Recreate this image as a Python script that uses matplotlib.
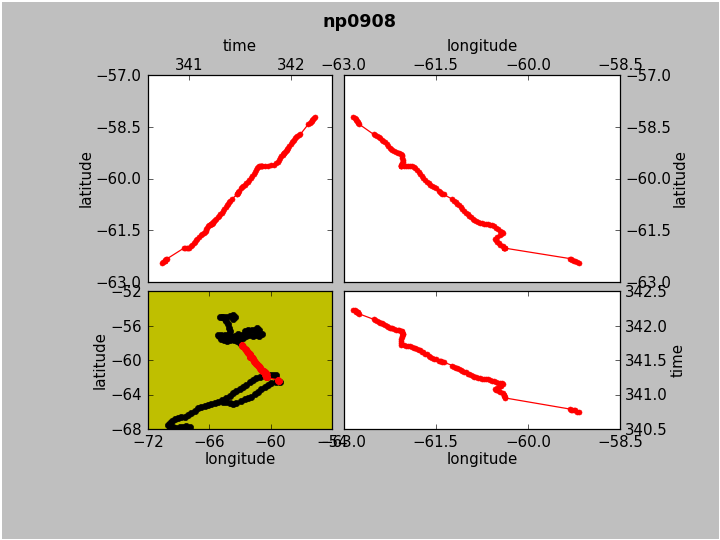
import matplotlib
matplotlib.use('Agg')
import matplotlib.pyplot as plt

# np0908 float track
lon = [-62.84, -62.82, -62.80, -62.79, -62.78, -62.77, -62.76, -62.75, -62.51, -62.49,
       -62.46, -62.43, -62.40, -62.38, -62.35, -62.32, -62.29, -62.27, -62.25, -62.23,
       -62.21, -62.18, -62.15, -62.12, -62.10, -62.07, -62.05, -62.05, -62.04, -62.03,
       -62.03, -62.04, -62.05, -62.06, -62.06, -62.06, -62.06, -62.02, -61.99, -61.95, -61.92, -61.89, -61.86,
       -61.83, -61.80, -61.77, -61.75, -61.72, -61.70, -61.67, -61.64, -61.61, -61.59,
       -61.56, -61.53, -61.50, -61.45, -61.43, -61.41, -61.39, -61.37, -61.23, -61.20,
       -61.17, -61.15, -61.12, -61.09, -61.07, -61.04, -61.01, -60.98, -60.96, -60.93,
       -60.90, -60.87, -60.85, -60.81, -60.78, -60.75, -60.72, -60.68, -60.65, -60.61,
       -60.58, -60.55, -60.51, -60.48, -60.45, -60.42, -60.40, -60.43, -60.46, -60.50,
       -60.54, -60.52, -60.50, -60.47, -60.45, -60.41, -60.38, -60.38, -60.38, -60.37, -60.37, -59.32, -59.30,
       -59.28, -59.25, -59.23, -59.20, -59.16]
lat = [-58.22, -58.25, -58.28, -58.30, -58.32, -58.35, -58.38, -58.42, -58.72, -58.75,
       -58.78, -58.81, -58.84, -58.87, -58.91, -58.95, -59.00, -59.05, -59.11, -59.15,
       -59.18, -59.21, -59.23, -59.25, -59.26, -59.28, -59.31, -59.36, -59.41, -59.46,
       -59.51, -59.56, -59.61, -59.62, -59.63, -59.63, -59.64, -59.63, -59.63, -59.64, -59.64, -59.65, -59.66,
       -59.71, -59.76, -59.82, -59.88, -59.93, -59.99, -60.04, -60.09, -60.14, -60.18,
       -60.22, -60.25, -60.28, -60.37, -60.40, -60.42, -60.44, -60.46, -60.60, -60.64,
       -60.69, -60.73, -60.77, -60.83, -60.88, -60.93, -60.99, -61.04, -61.08, -61.12,
       -61.16, -61.20, -61.23, -61.26, -61.28, -61.30, -61.31, -61.32, -61.33, -61.35,
       -61.36, -61.39, -61.43, -61.47, -61.52, -61.56, -61.59, -61.62, -61.65, -61.70,
       -61.74, -61.79, -61.83, -61.87, -61.92, -61.97, -62.01, -62.01, -62.02, -62.02, -62.02, -62.32, -62.34,
       -62.37, -62.39, -62.40, -62.42, -62.44]
time = [342.23, 342.22, 342.21, 342.20, 342.20, 342.19, 342.18, 342.17, 342.09, 342.08,
        342.06, 342.05, 342.04, 342.03, 342.02, 342.01, 342.00, 341.98, 341.97, 341.96,
        341.96, 341.95, 341.94, 341.93, 341.93, 341.92, 341.92, 341.90, 341.89, 341.88,
        341.87, 341.85, 341.83, 341.80, 341.77, 341.74, 341.72, 341.72, 341.71, 341.71, 341.70, 341.69, 341.68,
        341.67, 341.66, 341.65, 341.64, 341.62, 341.61, 341.59, 341.58, 341.56, 341.55,
        341.53, 341.52, 341.51, 341.49, 341.48, 341.48, 341.47, 341.47, 341.42, 341.40,
        341.39, 341.38, 341.37, 341.36, 341.34, 341.33, 341.32, 341.30, 341.29, 341.28,
        341.27, 341.26, 341.25, 341.24, 341.24, 341.23, 341.23, 341.22, 341.22, 341.21,
        341.20, 341.19, 341.18, 341.17, 341.17, 341.16, 341.15, 341.13, 341.12, 341.10,
        341.08, 341.07, 341.06, 341.05, 341.03, 341.02, 341.00, 340.99, 340.98, 340.96, 340.95, 340.79, 340.78,
        340.77, 340.77, 340.77, 340.75, 340.74]

# rest of the track, overview panel only
all_lon = [-67.93, -68.25, -68.58, -68.90, -69.23, -69.56, -69.88, -70.04, -69.85, -69.65,
           -69.36, -69.07, -68.74, -68.41, -68.09, -67.76, -67.44, -67.11, -66.78, -66.46,
           -66.13, -65.81, -65.48, -65.15, -64.76, -64.34, -64.01, -63.69, -63.36, -63.04,
           -62.71, -62.38, -62.06, -61.73, -61.41, -61.08, -60.59, -60.30, -60.07, -59.78,
           -59.48, -59.12, -59.51, -59.94, -60.26, -60.59, -60.92, -61.24, -61.57, -61.89,
           -62.22, -62.55, -62.94, -63.36, -63.69, -64.01, -64.34, -64.67,
           -63.02, -63.28, -63.57, -63.93, -64.26, -64.59, -64.82, -65.05, -65.15, -64.82,
           -64.49, -64.16, -63.84, -63.51, -63.18, -62.85, -62.52, -62.20, -61.87, -61.54,
           -61.31, -61.11, -60.89, -61.11, -61.44, -61.77, -62.10, -62.43, -62.75, -63.08,
           -63.41, -63.74, -64.07, -64.00, -64.07, -64.20, -64.33, -64.49, -64.75, -64.98,
           -64.66, -64.33, -64.00, -63.67, -63.51, -63.67]
all_lat = [-67.72, -67.65, -67.72, -67.80, -67.84, -67.80, -67.72, -67.53, -67.26, -67.07,
           -66.84, -66.68, -66.60, -66.56, -66.37, -66.18, -65.87, -65.60, -65.44, -65.29,
           -65.21, -65.13, -64.98, -64.83, -64.63, -64.44, -64.13, -63.86, -63.59, -63.36,
           -63.13, -62.89, -62.59, -62.32, -62.12, -61.97, -61.85, -61.80, -61.79, -61.76,
           -61.71, -62.51, -62.59, -62.70, -62.89, -63.09, -63.36, -63.67, -63.98, -64.25,
           -64.40, -64.52, -64.75, -65.02, -65.06, -65.02, -64.90, -64.83,
           -58.02, -57.83, -57.67, -57.71, -57.75, -57.71, -57.55, -57.24, -57.05, -57.05,
           -57.13, -57.13, -57.24, -57.17, -56.97, -57.05, -56.66, -56.47, -56.47, -56.47,
           -56.27, -56.47, -56.97, -57.24, -57.05, -57.24, -57.05, -57.24, -57.44, -57.51,
           -57.44, -57.44, -57.05, -56.66, -56.27, -55.88, -55.50, -55.22, -55.03, -54.99,
           -54.99, -54.99, -54.91, -54.80, -54.99, -55.22]

lon_ticks = [-63.0, -61.5, -60.0, -58.5]
lat_ticks = [-57.0, -58.5, -60.0, -61.5, -63.0]
time_ticks = [340.5, 341.0, 341.5, 342.0, 342.5]


def place(fig, left, top, right, bottom):
    return fig.add_axes([left / 720, 1 - bottom / 540, (right - left) / 720, (bottom - top) / 540])


def lower_ylabels(ax):
    for label in ax.get_yticklabels():
        label.set_verticalalignment('center_baseline')


if __name__ == "__main__":

    plt.style.use('classic')
    fig = plt.figure(figsize=(8, 6), facecolor='0.75', edgecolor='w', linewidth=1)
    fig.suptitle('np0908', fontsize=14, fontweight='bold', y=0.976, va='top')

    # time vs latitude
    ax1 = place(fig, 148, 75, 332, 282)
    ax1.plot(time, lat, 'r-', marker='o', ms=4, mec='r', lw=1)
    ax1.set_xlim(340.6, 342.4)
    ax1.set_ylim(-63, -57)
    ax1.set_xticks([341, 342])
    ax1.set_yticks(lat_ticks)
    ax1.get_xaxis().get_major_formatter().set_useOffset(False)
    ax1.xaxis.tick_top()
    ax1.xaxis.set_label_position('top')
    ax1.tick_params(axis='x', pad=2)
    ax1.tick_params(axis='y', pad=5)
    ax1.set_xlabel('time')
    ax1.set_ylabel('latitude', labelpad=1.5)
    lower_ylabels(ax1)

    # longitude vs latitude
    ax2 = place(fig, 343.5, 75, 620, 282)
    ax2.plot(lon, lat, 'r-', marker='o', ms=4, mec='r', lw=1)
    ax2.set_xlim(-63, -58.5)
    ax2.set_ylim(-63, -57)
    ax2.set_xticks(lon_ticks)
    ax2.set_yticks(lat_ticks)
    ax2.xaxis.tick_top()
    ax2.xaxis.set_label_position('top')
    ax2.yaxis.tick_right()
    ax2.yaxis.set_label_position('right')
    ax2.tick_params(axis='x', pad=2)
    ax2.tick_params(axis='y', pad=4)
    ax2.set_xlabel('longitude')
    ax2.set_ylabel('latitude', labelpad=1.5)
    lower_ylabels(ax2)

    # overview
    ax3 = place(fig, 148, 291, 332, 429)
    ax3.set_facecolor('y')
    ax3.plot(all_lon, all_lat, 'k.', marker='o', ms=5, mec='k')
    ax3.plot(lon, lat, 'r-', marker='o', ms=4.6, mec='r', lw=1)
    ax3.set_xlim(-72, -54)
    ax3.set_ylim(-68, -52)
    ax3.set_xticks([-72, -66, -60, -54])
    ax3.set_yticks([-52, -56, -60, -64, -68])
    ax3.tick_params(axis='x', pad=5)
    ax3.tick_params(axis='y', pad=5)
    ax3.set_xlabel('longitude', labelpad=1.7)
    ax3.set_ylabel('latitude', labelpad=2)
    lower_ylabels(ax3)

    # longitude vs time
    ax4 = place(fig, 343.5, 291, 620, 429)
    ax4.plot(lon, time, 'r-', marker='o', ms=4, mec='r', lw=1)
    ax4.set_xlim(-63, -58.5)
    ax4.set_ylim(340.5, 342.5)
    ax4.set_xticks(lon_ticks)
    ax4.set_yticks(time_ticks)
    ax4.get_yaxis().get_major_formatter().set_useOffset(False)
    ax4.yaxis.tick_right()
    ax4.yaxis.set_label_position('right')
    ax4.tick_params(axis='x', pad=5)
    ax4.tick_params(axis='y', pad=4)
    ax4.set_xlabel('longitude', labelpad=1.7)
    ax4.set_ylabel('time', labelpad=2.2)
    lower_ylabels(ax4)

    fig.savefig('out.png', dpi=90, facecolor=fig.get_facecolor(), edgecolor='w')
